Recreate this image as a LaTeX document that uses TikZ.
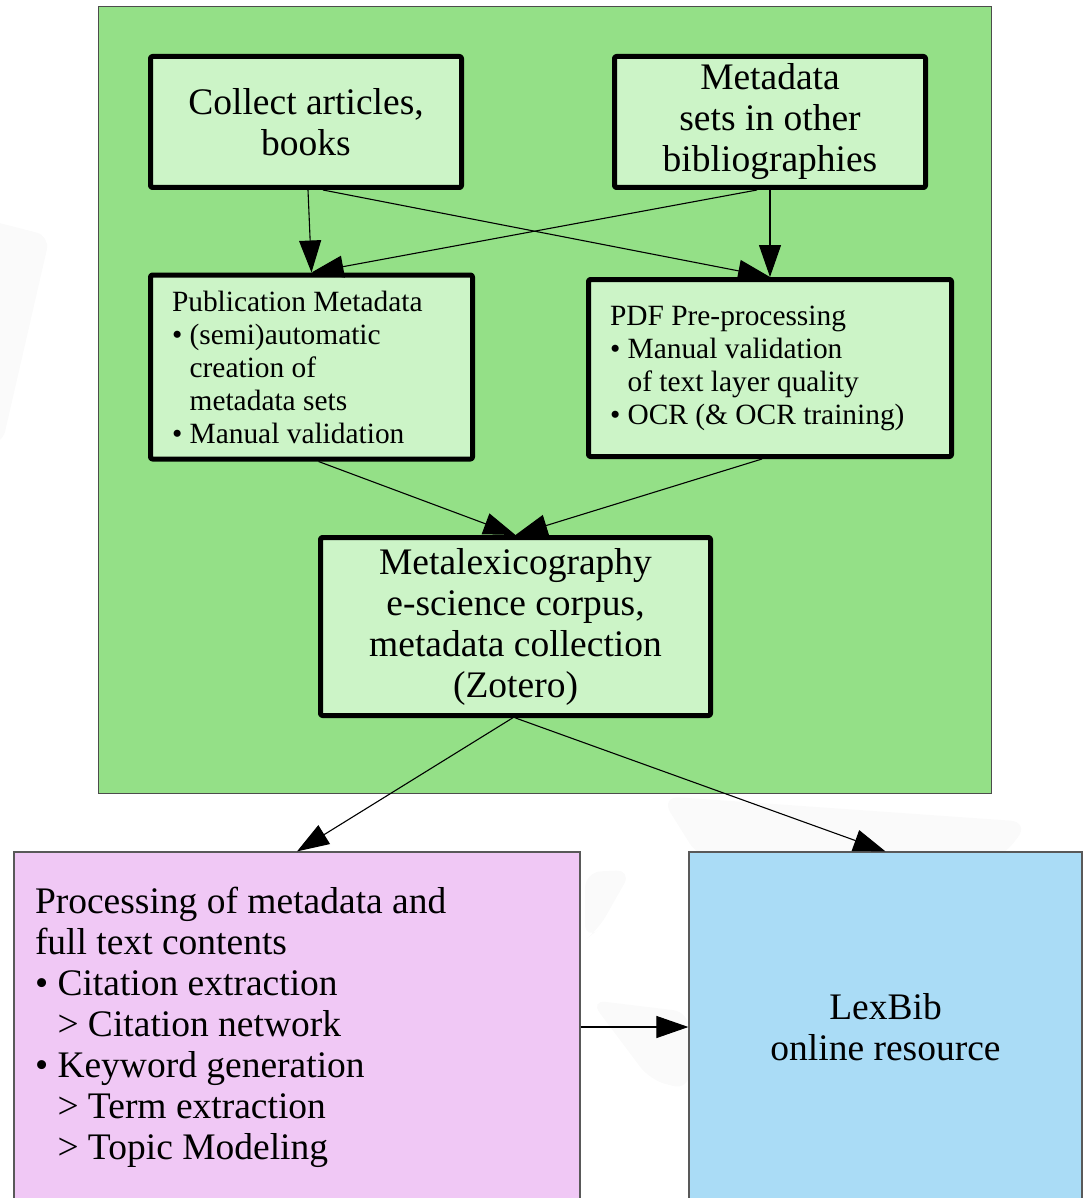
\documentclass[tikz,border=0pt]{standalone}
\usepackage{fontspec}
\setmainfont{Liberation Serif}
\usetikzlibrary{arrows.meta}

\definecolor{panelgreen}{HTML}{94E087}
\definecolor{boxgreen}{HTML}{CCF4C7}
\definecolor{procpink}{HTML}{F0C8F5}
\definecolor{resblue}{HTML}{AADCF6}
\definecolor{haze}{HTML}{FAFAFA}

\newcommand{\bigtext}{\fontsize{37.5}{41}\selectfont}
\newcommand{\smalltext}{\fontsize{29.4}{33}\selectfont}
\newcommand{\bulletitem}{\textbullet\ }
\newcommand{\bulletgap}{\phantom{\textbullet\ }}

\tikzset{
  stage/.style={draw, line width=5pt, fill=boxgreen, rounded corners=2pt,
    line join=round, inner sep=0pt, align=center},
  plainbox/.style={draw=black!65, line width=1.2pt, inner sep=0pt},
  flow/.style={line width=1.1pt, -{Triangle[length=32pt,width=22pt]}},
}

\begin{document}
\begin{tikzpicture}[x=1pt,y=-1pt]
\useasboundingbox (0,0) rectangle (1089,1198);
\clip (0,0) rectangle (1089,1198);

% faint watermark shapes behind everything
\fill[haze, rounded corners=14pt] (-20,218) -- (50,236) -- (2,445) -- (-20,445) -- cycle;
\fill[haze, rounded corners=20pt] (660,796) -- (1030,822) -- (1000,860) -- (700,860) -- cycle;
\fill[haze, rounded corners=16pt] (585,872) -- (632,870) -- (598,930) -- (585,940) -- cycle;
\fill[haze, rounded corners=16pt] (590,1000) -- (689,1012) -- (689,1090) -- (650,1080) -- cycle;

% green working area
\node[draw=black!70, line width=1pt, fill=panelgreen, inner sep=0pt,
      minimum width=893pt, minimum height=786pt] (panel) at (544.5,400) {};

% stages inside the working area
\node[stage, minimum width=311pt, minimum height=131pt, font=\bigtext]
  (collect) at (306,122) {Collect articles,\\books};
\node[stage, minimum width=311pt, minimum height=131pt, font=\bigtext]
  (meta) at (770,122) {Metadata\\sets in other\\bibliographies};
\node[stage, minimum width=322pt, minimum height=184pt, text width=279pt,
      align=flush left, font=\smalltext]
  (pubmeta) at (311.5,367)
  {Publication Metadata\\\bulletitem(semi)automatic\\\bulletgap creation of\\\bulletgap metadata sets\\\bulletitem Manual validation};
\node[stage, minimum width=363pt, minimum height=177pt, text width=320pt,
      align=flush left, font=\smalltext]
  (pdf) at (770,368)
  {PDF Pre-processing\\\bulletitem Manual validation\\\bulletgap of text layer quality\\\bulletitem OCR (\& OCR training)};
\node[stage, minimum width=390pt, minimum height=178pt, font=\bigtext]
  (corpus) at (515.5,626.5)
  {Metalexicography\\e-science corpus,\\metadata collection\\(Zotero)};

% downstream outputs
\node[plainbox, fill=procpink, minimum width=566pt, minimum height=350pt,
      text width=524pt, align=flush left, font=\bigtext]
  (proc) at (297,1027)
  {Processing of metadata and\\full text contents\\\bulletitem Citation extraction\\\bulletgap> Citation network\\\bulletitem Keyword generation\\\bulletgap> Term extraction\\\bulletgap> Topic Modeling};
\node[plainbox, fill=resblue, minimum width=393pt, minimum height=350pt,
      align=center, font=\bigtext]
  (lexbib) at (885.5,1027) {LexBib\\online resource};

% connectors
\draw[flow] ([xshift=2pt]collect.south) -- (pubmeta.north);
\draw[flow] ([xshift=17pt]collect.south) -- (pdf.north);
\draw[flow] ([xshift=-13pt]meta.south) -- (pubmeta.north);
\draw[flow] (meta.south) -- (pdf.north);
\draw[flow] ([xshift=7pt]pubmeta.south) -- (corpus.north);
\draw[flow] ([xshift=-8pt]pdf.south) -- (corpus.north);
\draw[flow] ([xshift=-3pt]corpus.south) -- (proc.north);
\draw[flow] (corpus.south) -- (lexbib.north);
\draw[flow] (proc.east) -- (lexbib.west);
\end{tikzpicture}
\end{document}
